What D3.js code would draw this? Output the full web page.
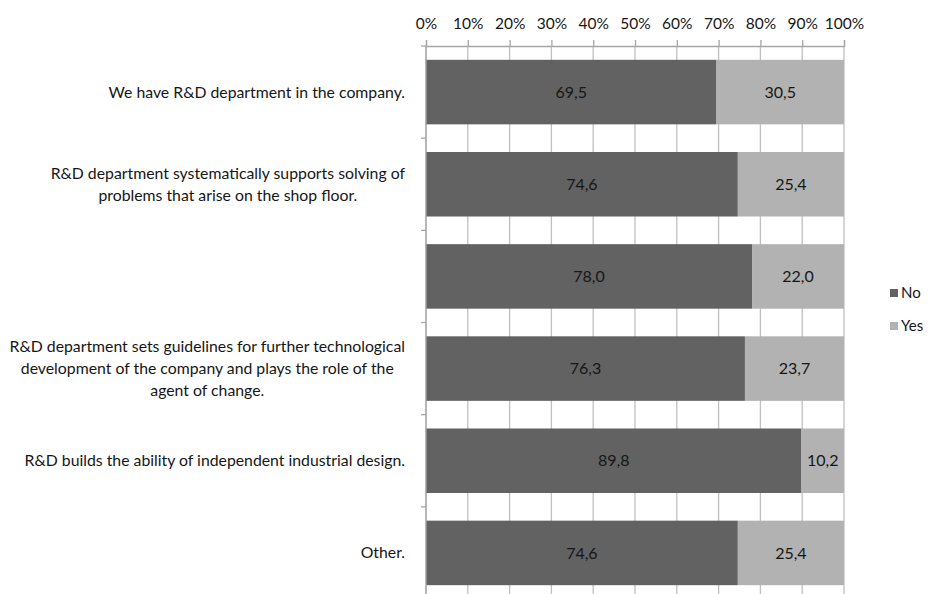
<!DOCTYPE html>
<html>
<head>
<meta charset="utf-8">
<script src="https://cdn.jsdelivr.net/npm/d3@7"></script>
<style>
  html, body { margin: 0; padding: 0; background: #fff; }
  svg { display: block; }
  text { font-family: Lato, "Open Sans", sans-serif; fill: #161616; }
</style>
</head>
<body>
<svg id="chart" width="930" height="594"></svg>
<script>
// Survey statements (lines separated by "\n"; one statement has no label)
const categories = [
  "We have R&D department in the company.",
  "R&D department systematically supports solving of\nproblems that arise on the shop floor.",
  "",
  "R&D department sets guidelines for further technological\ndevelopment of the company and plays the role of the\nagent of change.",
  "R&D builds the ability of independent industrial design.",
  "Other."
];
const seriesNames = ["No", "Yes"];
const noValues  = [69.5, 74.6, 78.0, 76.3, 89.8, 74.6];
const yesValues = [30.5, 25.4, 22.0, 23.7, 10.2, 25.4];
const tickValues = [0, 10, 20, 30, 40, 50, 60, 70, 80, 90, 100];

const colors = { No: "#626262", Yes: "#b2b2b2" };

const svg = d3.select("#chart");
const plotLeft = 426, plotRight = 844, plotTop = 46, plotBottom = 599;

const x = d3.scaleLinear().domain([0, 100]).range([plotLeft, plotRight]);
const y = d3.scaleBand()
  .domain(d3.range(categories.length))
  .range([plotTop, plotBottom])
  .paddingInner(0.3)
  .paddingOuter(0.15);

// Vertical gridlines
svg.append("g")
  .selectAll("line")
  .data(tickValues)
  .join("line")
  .attr("x1", d => x(d)).attr("x2", d => x(d))
  .attr("y1", plotTop).attr("y2", plotBottom)
  .attr("stroke", "#c0c0c0")
  .attr("stroke-width", 1.3);

// Top percentage axis
const xAxis = d3.axisTop(x)
  .tickValues(tickValues)
  .tickSize(6)
  .tickPadding(11)
  .tickFormat(d => d + "%");
const gx = svg.append("g")
  .attr("transform", `translate(0,${plotTop})`)
  .call(xAxis);
gx.select(".domain").attr("stroke", "#a6a6a6").attr("stroke-width", 1.3);
gx.selectAll(".tick line").attr("stroke", "#a6a6a6").attr("stroke-width", 1.3);
gx.selectAll(".tick text")
  .attr("font-family", "Lato, sans-serif")
  .attr("font-size", 15.5)
  .attr("fill", "#161616");

// Stacked series
const rows = categories.map((c, i) => ({ i, No: noValues[i], Yes: yesValues[i] }));
const stack = d3.stack().keys(seriesNames)(rows);

const layers = svg.append("g")
  .selectAll("g")
  .data(stack)
  .join("g")
  .attr("fill", d => colors[d.key]);

layers.selectAll("rect")
  .data(d => d)
  .join("rect")
  .attr("x", d => x(d[0]))
  .attr("width", d => x(d[1]) - x(d[0]))
  .attr("y", d => y(d.data.i))
  .attr("height", y.bandwidth());

const fmt = v => d3.format(".1f")(v).replace(".", ",");
layers.selectAll("text")
  .data(d => d.map(s => ({ s, key: d.key })))
  .join("text")
  .attr("x", d => (x(d.s[0]) + x(d.s[1])) / 2)
  .attr("y", d => y(d.s.data.i) + y.bandwidth() / 2)
  .attr("dy", "0.35em")
  .attr("text-anchor", "middle")
  .attr("font-size", 16)
  .text(d => fmt(d.s.data[d.key]));

// Left category axis line and ticks at band boundaries
const yAxisG = svg.append("g");
yAxisG.append("line")
  .attr("x1", plotLeft).attr("x2", plotLeft)
  .attr("y1", plotTop).attr("y2", plotBottom)
  .attr("stroke", "#a6a6a6").attr("stroke-width", 1.3);
yAxisG.selectAll("line.tick")
  .data(d3.range(categories.length + 1))
  .join("line")
  .attr("class", "tick")
  .attr("x1", plotLeft - 5).attr("x2", plotLeft)
  .attr("y1", i => plotTop + i * y.step())
  .attr("y2", i => plotTop + i * y.step())
  .attr("stroke", "#a6a6a6").attr("stroke-width", 1.3);

// Category labels: lines centred on each other, block right-aligned
const labelRight = 405, lineH = 22;
categories.forEach((c, i) => {
  if (!c) return;
  const lines = c.split("\n");
  const g = svg.append("g");
  const cy = y(i) + y.bandwidth() / 2;
  const texts = g.selectAll("text")
    .data(lines)
    .join("text")
    .attr("font-size", 15.8)
    .attr("text-anchor", "middle")
    .attr("dy", "0.35em")
    .attr("y", (d, k) => cy + (k - (lines.length - 1) / 2) * lineH)
    .text(d => d);
  let maxW = 0;
  texts.each(function () { maxW = Math.max(maxW, this.getComputedTextLength()); });
  texts.attr("x", labelRight - maxW / 2);
});

// Legend
const legend = svg.append("g").attr("transform", "translate(890,289)");
const li = legend.selectAll("g")
  .data(seriesNames)
  .join("g")
  .attr("transform", (d, k) => `translate(0,${k * 33})`);
li.append("rect")
  .attr("width", 8).attr("height", 8)
  .attr("fill", d => colors[d]);
li.append("text")
  .attr("x", 11).attr("y", 4)
  .attr("dy", "0.35em")
  .attr("font-size", 15)
  .text(d => d);
</script>
</body>
</html>
